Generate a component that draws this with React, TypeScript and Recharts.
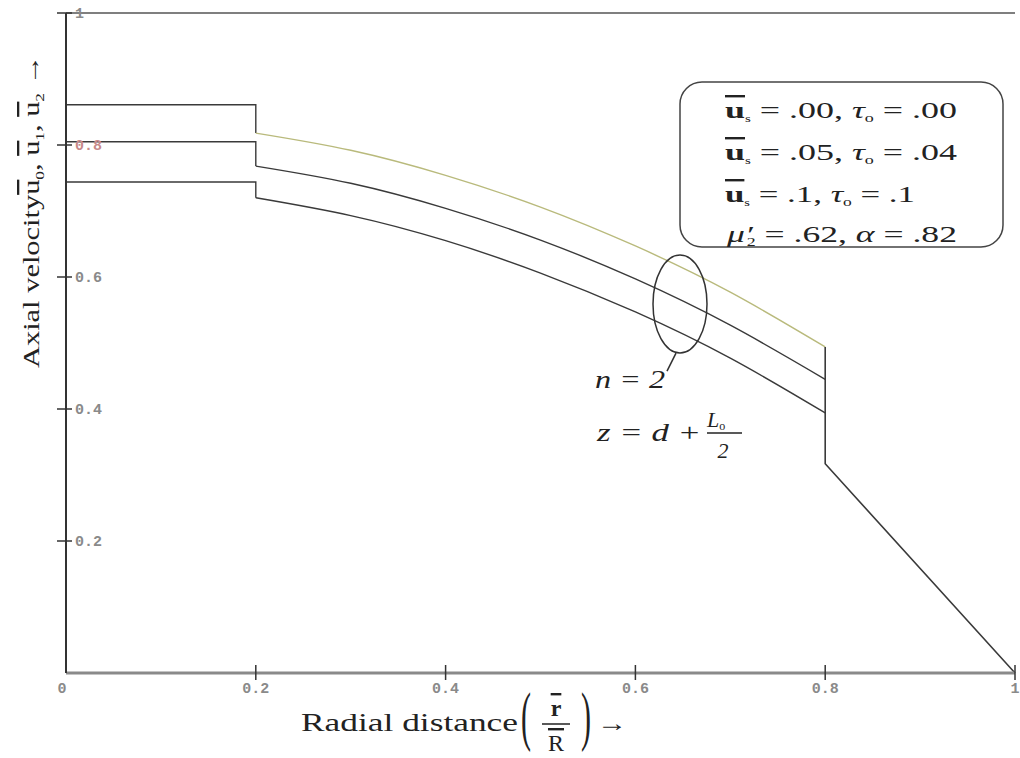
import React from 'react';
import { LineChart, Line, XAxis, YAxis, ReferenceLine, ReferenceDot, Customized } from 'recharts';

// Radial positions for the curved section
const radii = [0.2, 0.3, 0.4, 0.5, 0.6, 0.7, 0.8];
// Curved section values (0.2 -> 0.8) for the three cases
const topCurveValues = [0.818, 0.792, 0.754, 0.706, 0.647, 0.577, 0.494];
const midCurveValues = [0.768, 0.742, 0.704, 0.656, 0.597, 0.527, 0.445];
const lowCurveValues = [0.720, 0.693, 0.655, 0.606, 0.547, 0.477, 0.394];
// Core (0 -> 0.2) plateau values
const plateauValues = [0.861, 0.805, 0.744];
// Outer section: jump at 0.8 then straight to the wall
const tailR = [0.8, 0.8, 1];
const tailValues = [0.494, 0.317, 0];

const xTicks = [0, 0.2, 0.4, 0.6, 0.8, 1];
const yTicks = [0.2, 0.4, 0.6, 0.8, 1];

const curve = (vals: number[]) => radii.map((r, i) => ({ r, v: vals[i] }));
const plateau = (p: number, c: number[]) => [
  { r: 0, v: p },
  { r: 0.2, v: p },
  { r: 0.2, v: c[0] },
];
const tailData = tailR.map((r, i) => ({ r, v: tailValues[i] }));

const DARK = '#3a3a3a';
const OLIVE = '#b9ba7c';
const SERIF = '"Liberation Serif", "DejaVu Serif", serif';
const MONO = '"Liberation Mono", "DejaVu Sans Mono", monospace';

const YTick = (props: any) => {
  const { x, y, payload } = props;
  return (
    <g>
      <line x1={x - 9} x2={x + 6} y1={y} y2={y} stroke="#333" strokeWidth={1.5} />
      <text x={x + 9} y={y} dy={5} fontFamily={MONO} fontSize={15} fontWeight="bold"
        fill={payload.value === 0.8 ? '#c88a8a' : '#8a8a8a'}>
        {payload.value === 1 ? '1' : String(payload.value)}
      </text>
    </g>
  );
};

const XTick = (props: any) => {
  const { x, y, payload } = props;
  return (
    <g>
      {payload.value !== 0 && (
        <line x1={x} x2={x} y1={y - 8} y2={y + 7} stroke="#333" strokeWidth={1.5} />
      )}
      <text x={payload.value === 0 ? x - 4 : x} y={y + 20} textAnchor="middle" fontFamily={MONO}
        fontSize={15} fontWeight="bold" fill="#8a8a8a">
        {payload.value === 0 ? '0' : payload.value === 1 ? '1' : String(payload.value)}
      </text>
    </g>
  );
};

const OL: React.CSSProperties = { textDecoration: 'overline' };
const SA = 'spacingAndGlyphs';

const Annotations = () => (
  <g>
    {/* Y axis title */}
    <text transform="rotate(-90, 39, 212)" x={-117} y={212} textLength={313} lengthAdjust={SA}
      fontFamily={SERIF} fontSize={23} fill="#222">
      <tspan>Axial velocity</tspan>
      <tspan style={OL}>u</tspan><tspan fontSize={13} dy={5}>0</tspan>
      <tspan dy={-5}>, </tspan>
      <tspan style={OL}>u</tspan><tspan fontSize={13} dy={5}>1</tspan>
      <tspan dy={-5}>, </tspan>
      <tspan style={OL}>u</tspan><tspan fontSize={13} dy={5}>2</tspan>
      <tspan dy={-5}> →</tspan>
    </text>

    {/* X axis title */}
    <text x={301} y={731} textLength={217} lengthAdjust={SA} fontFamily={SERIF} fontSize={25} fill="#222">Radial distance</text>
    <g transform="translate(521,738) scale(1,2.15)">
      <text x={0} y={0} fontFamily={SERIF} fontSize={30} fill="#222">(</text>
    </g>
    <text x={556} y={716} textAnchor="middle" fontFamily={SERIF} fontSize={24} fontWeight="bold" fill="#222" style={OL}>r</text>
    <line x1={542} x2={570} y1={724} y2={724} stroke="#222" strokeWidth={1.5} />
    <text x={556} y={751} textAnchor="middle" fontFamily={SERIF} fontSize={24} fill="#222" style={OL}>R</text>
    <g transform="translate(581,738) scale(1,2.15)">
      <text x={0} y={0} fontFamily={SERIF} fontSize={30} fill="#222">)</text>
    </g>
    <text x={597} y={731} textLength={30} lengthAdjust={SA} fontFamily={SERIF} fontSize={24} fill="#222">→</text>

    {/* Legend box */}
    <rect x={680} y={82} width={323} height={165} rx={22} ry={22} fill="#fff" stroke="#444" strokeWidth={1.5} />
    <text x={725} y={118} textLength={232} lengthAdjust={SA} fontFamily={SERIF} fontSize={24} fill="#222">
      <tspan style={OL} fontWeight="bold">u</tspan><tspan fontSize={10} dy={4}>s</tspan>
      <tspan dy={-4}> = .00, </tspan>
      <tspan fontStyle="italic">τ</tspan><tspan fontSize={12} dy={4}>o</tspan>
      <tspan dy={-4}> = .00</tspan>
    </text>
    <text x={725} y={160} textLength={232} lengthAdjust={SA} fontFamily={SERIF} fontSize={24} fill="#222">
      <tspan style={OL} fontWeight="bold">u</tspan><tspan fontSize={10} dy={4}>s</tspan>
      <tspan dy={-4}> = .05, </tspan>
      <tspan fontStyle="italic">τ</tspan><tspan fontSize={12} dy={4}>o</tspan>
      <tspan dy={-4}> = .04</tspan>
    </text>
    <text x={725} y={202} textLength={190} lengthAdjust={SA} fontFamily={SERIF} fontSize={24} fill="#222">
      <tspan style={OL} fontWeight="bold">u</tspan><tspan fontSize={10} dy={4}>s</tspan>
      <tspan dy={-4}> = .1, </tspan>
      <tspan fontStyle="italic">τ</tspan><tspan fontSize={12} dy={4}>o</tspan>
      <tspan dy={-4}> = .1</tspan>
    </text>
    <text x={727} y={242} textLength={230} lengthAdjust={SA} fontFamily={SERIF} fontSize={24} fill="#222">
      <tspan fontStyle="italic">μ′</tspan><tspan fontSize={12} dy={4} dx={-4}>2</tspan>
      <tspan dy={-4}> = .62, </tspan>
      <tspan fontStyle="italic">α</tspan>
      <tspan> = .82</tspan>
    </text>

    {/* n = 2 and z annotation */}
    <text x={595} y={388} textLength={70} lengthAdjust={SA} fontFamily={SERIF} fontSize={25} fontStyle="italic" fill="#222">n = 2</text>
    <text x={597} y={441} textLength={104} lengthAdjust={SA} fontFamily={SERIF} fontSize={25} fontStyle="italic" fill="#222">z = d +</text>
    <text x={707} y={427} fontFamily={SERIF} fontSize={22} fontStyle="italic" fill="#222">
      L<tspan fontSize={12} dy={3} fontStyle="normal">o</tspan>
    </text>
    <line x1={707} x2={742} y1={433} y2={433} stroke="#222" strokeWidth={1.3} />
    <text x={723} y={458} textAnchor="middle" fontFamily={SERIF} fontSize={22} fontStyle="italic" fill="#222">2</text>
  </g>
);

const EllipseShape = (props: any) => {
  const { cx, cy } = props;
  return (
    <g>
      <ellipse cx={cx} cy={cy} rx={27} ry={49} fill="none" stroke="#333" strokeWidth={1.5} />
      <line x1={cx - 4} y1={cy + 49} x2={cx - 13} y2={cy + 67} stroke="#333" strokeWidth={1.5} />
    </g>
  );
};

export default function App() {
  return (
    <div style={{ position: 'absolute', left: 0, top: 0, width: 1020, height: 758, background: '#fff' }}>
      <LineChart width={1020} height={758} margin={{ top: 13, right: 5, left: 16, bottom: 55 }}>
        <XAxis dataKey="r" type="number" domain={[0, 1]} ticks={xTicks} height={30}
          axisLine={{ stroke: '#8a8a8a', strokeWidth: 3 }} tickLine={false} tickSize={0} tickMargin={0}
          tick={<XTick />} interval={0} allowDuplicatedCategory={false} />
        <YAxis type="number" domain={[0, 1]} ticks={yTicks} width={50}
          axisLine={{ stroke: '#333', strokeWidth: 2 }} tickLine={false} tickSize={0} tickMargin={0}
          tick={<YTick />} interval={0} />
        <ReferenceLine y={1} stroke="#555" strokeWidth={1.5} />

        <Line data={plateau(plateauValues[0], topCurveValues)} dataKey="v" type="linear" stroke={DARK} strokeWidth={1.4} dot={false} isAnimationActive={false} />
        <Line data={plateau(plateauValues[1], midCurveValues)} dataKey="v" type="linear" stroke={DARK} strokeWidth={1.4} dot={false} isAnimationActive={false} />
        <Line data={plateau(plateauValues[2], lowCurveValues)} dataKey="v" type="linear" stroke={DARK} strokeWidth={1.4} dot={false} isAnimationActive={false} />

        <Line data={curve(topCurveValues)} dataKey="v" type="natural" stroke={OLIVE} strokeWidth={1.4} dot={false} isAnimationActive={false} />
        <Line data={curve(midCurveValues)} dataKey="v" type="natural" stroke={DARK} strokeWidth={1.4} dot={false} isAnimationActive={false} />
        <Line data={curve(lowCurveValues)} dataKey="v" type="natural" stroke={DARK} strokeWidth={1.4} dot={false} isAnimationActive={false} />

        <Line data={tailData} dataKey="v" type="linear" stroke={DARK} strokeWidth={1.6} dot={false} isAnimationActive={false} />

        <ReferenceDot x={0.647} y={0.559} r={0} shape={<EllipseShape />} />
        <Customized component={Annotations} />
      </LineChart>
    </div>
  );
}
